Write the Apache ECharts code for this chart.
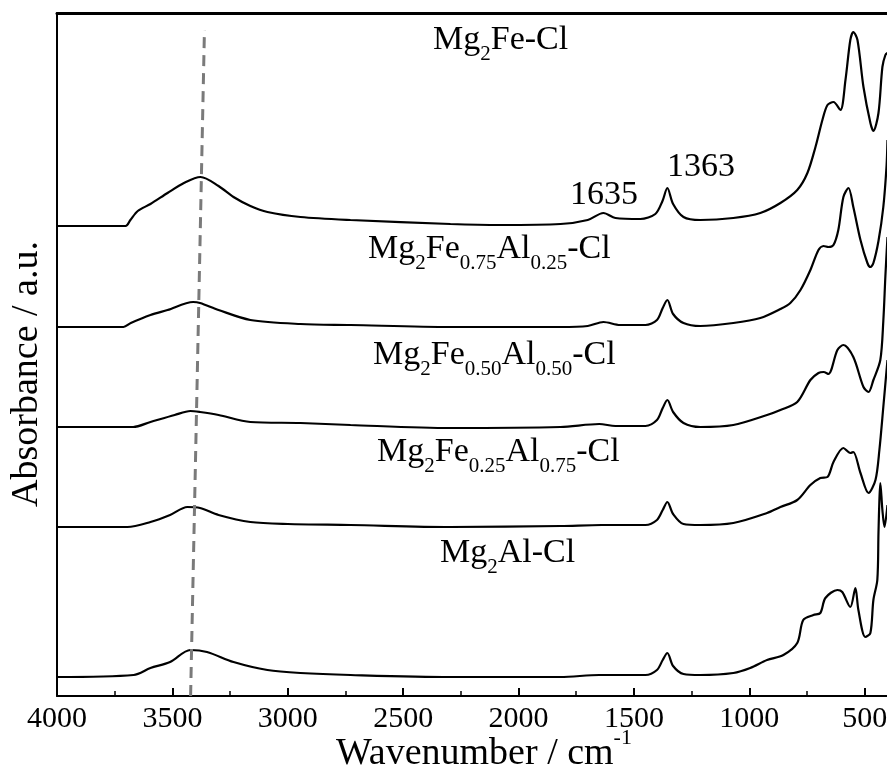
<!DOCTYPE html>
<html>
<head>
<meta charset="utf-8">
<script src="https://cdn.jsdelivr.net/npm/echarts@6/dist/echarts.min.js"></script>
<style>
  html, body { margin: 0; padding: 0; background: #fff; }
  #chart { width: 887px; height: 769px; }
</style>
</head>
<body>
<div id="chart"></div>
<script>
const FONT = '"Liberation Serif", "Times New Roman", serif';

// spectra, [wavenumber (cm-1), absorbance (a.u., offset)]
const mg2FeCl = [
  [4000, 4.70], [3703, 4.70], [3682, 4.76], [3650, 4.85], [3595, 4.92], [3521, 5.03],
  [3450, 5.13], [3378, 5.19], [3300, 5.10], [3235, 4.99], [3162, 4.90], [3088, 4.84],
  [2945, 4.79], [2728, 4.76], [2295, 4.72], [2078, 4.71], [1818, 4.72], [1700, 4.76],
  [1632, 4.83], [1580, 4.78], [1472, 4.77], [1407, 4.82], [1376, 4.95], [1355, 5.08],
  [1330, 4.92], [1285, 4.79], [1212, 4.76], [1069, 4.78], [952, 4.83], [865, 4.93],
  [792, 5.06], [748, 5.23], [713, 5.49], [683, 5.76], [661, 5.91], [635, 5.94],
  [605, 5.86], [583, 6.16], [562, 6.56], [549, 6.64], [531, 6.56], [505, 6.09],
  [475, 5.73], [462, 5.65], [440, 5.83], [423, 6.29], [410, 6.41], [401, 6.43]
];
const mg2Fe75Al25Cl = [
  [4000, 3.69], [3712, 3.69], [3680, 3.73], [3595, 3.81], [3521, 3.86], [3410, 3.94],
  [3380, 3.93], [3300, 3.86], [3162, 3.76], [2945, 3.72], [2728, 3.71], [2295, 3.69],
  [1818, 3.69], [1700, 3.70], [1632, 3.74], [1560, 3.71], [1450, 3.71], [1400, 3.76],
  [1375, 3.88], [1355, 3.96], [1330, 3.82], [1285, 3.73], [1212, 3.70], [1069, 3.73],
  [952, 3.78], [865, 3.87], [822, 3.93], [778, 4.06], [735, 4.26], [700, 4.46],
  [678, 4.50], [657, 4.49], [635, 4.51], [614, 4.66], [592, 4.99], [570, 5.08],
  [549, 4.89], [518, 4.56], [488, 4.33], [475, 4.29], [462, 4.33], [440, 4.55],
  [419, 4.89], [405, 5.30], [401, 5.56]
];
const mg2Fe50Al50Cl = [
  [4000, 2.69], [3670, 2.69], [3595, 2.74], [3490, 2.81], [3422, 2.85], [3380, 2.84],
  [3300, 2.81], [3162, 2.74], [2945, 2.73], [2728, 2.71], [2295, 2.68], [1818, 2.69],
  [1650, 2.72], [1580, 2.70], [1450, 2.70], [1400, 2.76], [1375, 2.88], [1355, 2.96],
  [1330, 2.84], [1285, 2.73], [1212, 2.69], [1069, 2.71], [923, 2.81], [865, 2.86],
  [792, 2.94], [735, 3.16], [700, 3.23], [678, 3.24], [657, 3.22], [618, 3.46],
  [592, 3.51], [549, 3.39], [505, 3.09], [483, 3.04], [462, 3.16], [432, 3.36],
  [419, 3.75], [410, 4.20], [401, 4.59]
];
const mg2Fe25Al75Cl = [
  [4000, 1.69], [3695, 1.69], [3595, 1.74], [3510, 1.81], [3435, 1.89], [3380, 1.88],
  [3300, 1.81], [3162, 1.74], [3000, 1.72], [2728, 1.71], [2295, 1.69], [1818, 1.70],
  [1640, 1.71], [1450, 1.71], [1400, 1.76], [1375, 1.86], [1355, 1.94], [1330, 1.82],
  [1285, 1.72], [1212, 1.71], [1069, 1.73], [923, 1.83], [865, 1.89], [792, 1.96],
  [735, 2.11], [692, 2.18], [661, 2.19], [635, 2.34], [592, 2.48], [562, 2.43],
  [549, 2.44], [518, 2.23], [483, 2.03], [453, 2.16], [436, 2.46], [419, 2.89],
  [401, 3.36]
];
const mg2AlCl = [
  [4000, 0.19], [3668, 0.21], [3595, 0.28], [3510, 0.34], [3422, 0.46], [3350, 0.44],
  [3235, 0.34], [3088, 0.26], [2945, 0.23], [2728, 0.21], [2295, 0.19], [1818, 0.19],
  [1650, 0.21], [1450, 0.21], [1400, 0.26], [1375, 0.36], [1355, 0.43], [1330, 0.30],
  [1285, 0.22], [1212, 0.21], [1069, 0.23], [996, 0.28], [923, 0.36], [852, 0.41],
  [792, 0.53], [766, 0.76], [722, 0.81], [692, 0.83], [670, 0.98], [618, 1.06],
  [597, 1.04], [562, 0.89], [540, 1.08], [527, 0.86], [497, 0.59], [475, 0.63],
  [462, 0.96], [445, 1.16], [440, 1.63], [436, 1.96], [432, 2.13], [423, 1.86],
  [414, 1.69], [401, 1.91]
];

// dashed guide through the O-H band
const ohGuide = [[3421, 0], [3361, 6.66]];

const spectra = [mg2FeCl, mg2Fe75Al25Cl, mg2Fe50Al50Cl, mg2Fe25Al75Cl, mg2AlCl];
const sampleLabels = [
  '{m|Mg}{s|2}{m|Fe-Cl}',
  '{m|Mg}{s|2}{m|Fe}{s|0.75}{m|Al}{s|0.25}{m|-Cl}',
  '{m|Mg}{s|2}{m|Fe}{s|0.50}{m|Al}{s|0.50}{m|-Cl}',
  '{m|Mg}{s|2}{m|Fe}{s|0.25}{m|Al}{s|0.75}{m|-Cl}',
  '{m|Mg}{s|2}{m|Al-Cl}'
];
const peakLabels = ['1635', '1363'];

// main text pinned to the top of the line box, subscripts to the bottom
const chemRich = {
  m: { fontFamily: FONT, fontSize: 34, lineHeight: 34, verticalAlign: 'top', fill: '#000' },
  s: { fontFamily: FONT, fontSize: 21, lineHeight: 42, verticalAlign: 'bottom', fill: '#000' }
};

const labelPos = [[433, 44], [368, 253], [373, 359], [377, 456], [440, 557]];
const peakPos = [[570, 195], [667, 167]];

const chart = echarts.init(document.getElementById('chart'), null, { renderer: 'canvas' });

const series = spectra.map(d => ({
  type: 'line',
  data: d,
  showSymbol: false,
  smooth: 0.3,
  lineStyle: { color: '#000', width: 2.2 },
  animation: false
}));
series.push({
  type: 'line',
  data: ohGuide,
  showSymbol: false,
  lineStyle: { color: '#7a7a7a', width: 3, type: [11, 7] },
  animation: false
});

const graphic = [];
sampleLabels.forEach((t, i) => {
  graphic.push({
    type: 'text', x: labelPos[i][0], y: labelPos[i][1],
    style: { text: t, rich: chemRich, align: 'left', verticalAlign: 'middle' }
  });
});
peakLabels.forEach((t, i) => {
  graphic.push({
    type: 'text', x: peakPos[i][0], y: peakPos[i][1],
    style: { text: t, font: '34px ' + FONT, fill: '#000', align: 'left', verticalAlign: 'middle' }
  });
});
graphic.push({
  type: 'text', x: 336, y: 750,
  style: {
    text: '{m|Wavenumber / cm}{p|-1}',
    align: 'left', verticalAlign: 'middle',
    rich: {
      m: { fontFamily: FONT, fontSize: 38, lineHeight: 38, verticalAlign: 'bottom', fill: '#000' },
      p: { fontFamily: FONT, fontSize: 22, lineHeight: 46, verticalAlign: 'top', fill: '#000' }
    }
  }
});
graphic.push({
  type: 'text', x: 27, y: 374, rotation: Math.PI / 2,
  style: { text: 'Absorbance / a.u.', font: '38px ' + FONT, fill: '#000', align: 'center', verticalAlign: 'middle' }
});

const option = {
  backgroundColor: '#fff',
  animation: false,
  grid: { left: 57, right: -93, top: 13, bottom: 73, outerBoundsMode: 'none' },
  xAxis: [
    {
      type: 'value', min: 0, max: 4000, interval: 500, inverse: true, position: 'bottom',
      axisLine: { onZero: false, lineStyle: { color: '#000', width: 2 } },
      axisTick: { inside: true, length: 8, lineStyle: { color: '#000', width: 2 } },
      minorTick: { show: true, splitNumber: 2, length: 5, lineStyle: { color: '#000', width: 1.5 } },
      splitLine: { show: false },
      axisLabel: { fontFamily: FONT, fontSize: 30, color: '#000', margin: 8, formatter: v => String(v) }
    },
    {
      type: 'value', min: 0, max: 4000, inverse: true, position: 'top',
      axisLine: { onZero: false, lineStyle: { color: '#000', width: 3 } },
      axisTick: { show: false }, axisLabel: { show: false }, splitLine: { show: false }
    }
  ],
  yAxis: {
    type: 'value', min: 0, max: 6.83, position: 'left',
    axisLine: { show: true, onZero: false, lineStyle: { color: '#000', width: 2 } },
    axisTick: { show: false }, axisLabel: { show: false }, splitLine: { show: false }
  },
  series: series,
  graphic: graphic
};

chart.setOption(option);
window.addEventListener('resize', chart.resize);
</script>
</body>
</html>
